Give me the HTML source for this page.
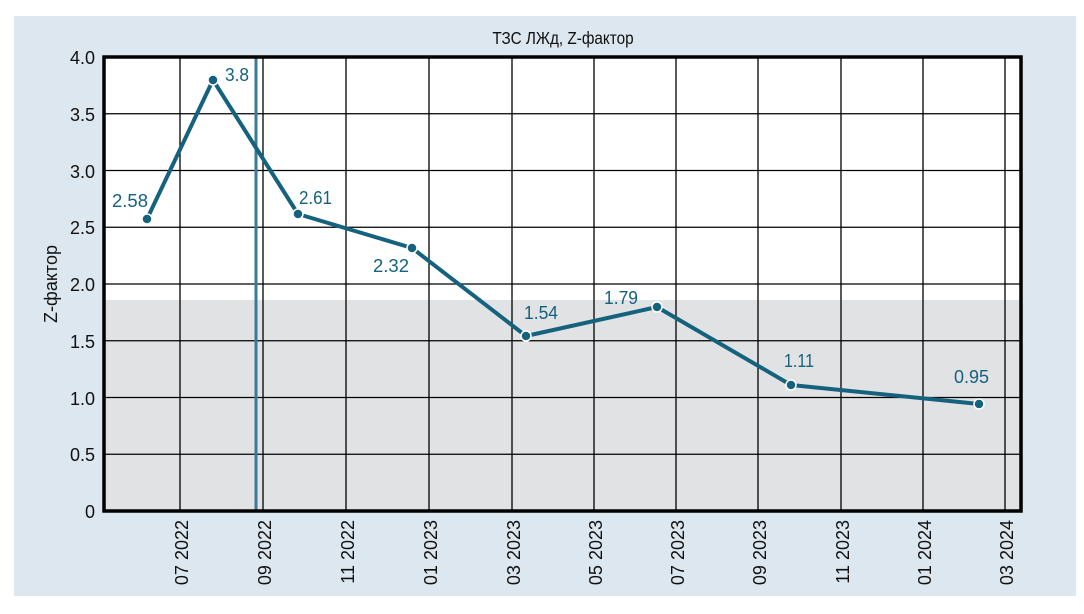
<!DOCTYPE html>
<html><head><meta charset="utf-8"><style>body{margin:0;background:#fff}</style></head><body>
<svg width="1084" height="609" xmlns="http://www.w3.org/2000/svg" font-family="Liberation Sans, sans-serif">
<rect x="14" y="16" width="1062" height="580" fill="#dde7f0"/>
<text x="563" y="44" font-size="18" text-anchor="middle" fill="#111" transform="translate(563,0) scale(0.85,1) translate(-563,0)">ТЗС ЛЖд, Z-фактор</text>
<rect x="104" y="57" width="917" height="454" fill="#fff"/>
<rect x="104" y="300" width="917" height="211" fill="#e1e2e4"/>
<g stroke="#000" stroke-width="1.3">
<line x1="104" y1="113.75" x2="1021" y2="113.75"/><line x1="104" y1="170.5" x2="1021" y2="170.5"/>
<line x1="104" y1="227.25" x2="1021" y2="227.25"/><line x1="104" y1="284" x2="1021" y2="284"/>
<line x1="104" y1="340.75" x2="1021" y2="340.75"/><line x1="104" y1="397.5" x2="1021" y2="397.5"/>
<line x1="104" y1="454.25" x2="1021" y2="454.25"/>
<line x1="180" y1="57" x2="180" y2="511"/><line x1="263" y1="57" x2="263" y2="511"/>
<line x1="346" y1="57" x2="346" y2="511"/><line x1="429" y1="57" x2="429" y2="511"/>
<line x1="512" y1="57" x2="512" y2="511"/><line x1="594" y1="57" x2="594" y2="511"/>
<line x1="676" y1="57" x2="676" y2="511"/><line x1="758" y1="57" x2="758" y2="511"/>
<line x1="841" y1="57" x2="841" y2="511"/><line x1="923" y1="57" x2="923" y2="511"/>
<line x1="1005" y1="57" x2="1005" y2="511"/>
</g>
<line x1="256" y1="57" x2="256" y2="511" stroke="#3b7a96" stroke-width="3"/>
<rect x="104" y="57" width="917" height="454" fill="none" stroke="#000" stroke-width="3.5"/>
<polyline points="147,219 213,80 298,214 412,248 526,336 657,307 791,385 979,404" fill="none" stroke="#15627e" stroke-width="4" stroke-linejoin="round"/>
<g fill="#15627e" stroke="#fff" stroke-width="1.5">
<circle cx="147" cy="219" r="5"/><circle cx="213" cy="80" r="5"/><circle cx="298" cy="214" r="5"/><circle cx="412" cy="248" r="5"/>
<circle cx="526" cy="336" r="5"/><circle cx="657" cy="307" r="5"/><circle cx="791" cy="385" r="5"/><circle cx="979" cy="404" r="5"/>
</g>
<g fill="#15627e" font-size="18">
<text x="112" y="207" textLength="36" lengthAdjust="spacingAndGlyphs">2.58</text>
<text x="225" y="81" textLength="24" lengthAdjust="spacingAndGlyphs">3.8</text>
<text x="299" y="204" textLength="33" lengthAdjust="spacingAndGlyphs">2.61</text>
<text x="373" y="272" textLength="36" lengthAdjust="spacingAndGlyphs">2.32</text>
<text x="524" y="319" textLength="34" lengthAdjust="spacingAndGlyphs">1.54</text>
<text x="604" y="304" textLength="34" lengthAdjust="spacingAndGlyphs">1.79</text>
<text x="784" y="367" textLength="30" lengthAdjust="spacingAndGlyphs">1.11</text>
<text x="954" y="383" textLength="35" lengthAdjust="spacingAndGlyphs">0.95</text>
</g>
<g font-size="18" fill="#111" text-anchor="end">
<text x="95" y="64">4.0</text><text x="95" y="121">3.5</text><text x="95" y="178">3.0</text>
<text x="95" y="234">2.5</text><text x="95" y="291">2.0</text><text x="95" y="348">1.5</text>
<text x="95" y="405">1.0</text><text x="95" y="461">0.5</text><text x="95" y="518">0</text>
</g>
<text transform="translate(57,284) rotate(-90)" font-size="18" text-anchor="middle" fill="#111">Z-фактор</text>
<g font-size="18" fill="#111" text-anchor="end">
<text transform="translate(188,520) rotate(-90)">07 2022</text>
<text transform="translate(271,520) rotate(-90)">09 2022</text>
<text transform="translate(354,520) rotate(-90)">11 2022</text>
<text transform="translate(437,520) rotate(-90)">01 2023</text>
<text transform="translate(520,520) rotate(-90)">03 2023</text>
<text transform="translate(602,520) rotate(-90)">05 2023</text>
<text transform="translate(684,520) rotate(-90)">07 2023</text>
<text transform="translate(766,520) rotate(-90)">09 2023</text>
<text transform="translate(849,520) rotate(-90)">11 2023</text>
<text transform="translate(931,520) rotate(-90)">01 2024</text>
<text transform="translate(1013,520) rotate(-90)">03 2024</text>
</g>
</svg>
</body></html>
